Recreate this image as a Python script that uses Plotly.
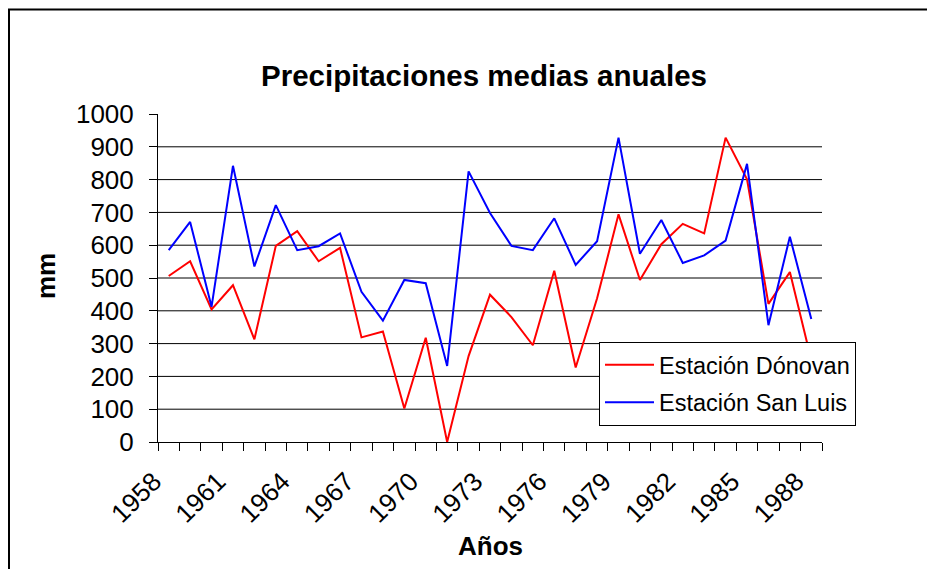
import plotly.graph_objects as go

years = list(range(1958, 1989))
donovan = [506, 551, 404, 478, 313, 598, 643, 551, 592, 319,
           337, 102, 318, 0, 262, 449, 381, 295, 522, 227,
           438, 694, 494, 603, 665, 636, 928, 801, 421, 518, 250]
sanluis = [585, 671, 412, 842, 535, 722, 585, 597, 636, 458,
           370, 494, 484, 232, 825, 698, 598, 585, 682, 540,
           612, 928, 574, 677, 546, 569, 614, 848, 356, 626, 375]
series_names = ["Estación Dónovan", "Estación San Luis"]
x_tick_years = list(range(1958, 1989, 3))
y_ticks = list(range(0, 1001, 100))

FONT = "Liberation Sans, Arial, sans-serif"

fig = go.Figure()
fig.add_trace(go.Scatter(x=years, y=donovan, mode="lines", name=series_names[0],
                         line=dict(color="#FF0000", width=2), legendgroup="a"))
fig.add_trace(go.Scatter(x=years, y=sanluis, mode="lines", name=series_names[1],
                         line=dict(color="#0000FF", width=2), legendgroup="b"))

# page body has an 8px margin; work in screen pixels and convert
OFF = 8
L, R, T, B = 158, 822, 114, 442          # plot area in screen pixels
W, H = 935 - OFF, 569 - OFF
pw, ph = R - L, B - T

def px_x(p):
    return (p - L) / pw

def px_y(p):
    return (B - p) / ph

shapes = []
for v in y_ticks[1:-1]:
    shapes.append(dict(type="line", xref="paper", yref="y", x0=0, x1=1, y0=v, y1=v,
                       line=dict(color="black", width=1), layer="below"))
# outer frame
shapes.append(dict(type="rect", xref="paper", yref="paper",
                   x0=px_x(9), x1=px_x(950), y0=px_y(590), y1=px_y(9.5),
                   line=dict(color="black", width=2), layer="below"))

fig.update_layout(
    width=W, height=H,
    margin=dict(l=L - OFF, r=W - (R - OFF), t=T - OFF, b=H - (B - OFF), pad=0),
    paper_bgcolor="white", plot_bgcolor="white",
    font=dict(family=FONT, color="black"),
    showlegend=True,
    legend=dict(x=px_x(599), y=px_y(342), xanchor="left", yanchor="top",
                bgcolor="white", bordercolor="black", borderwidth=1,
                font=dict(size=23.5, family=FONT), tracegroupgap=4,
                itemwidth=49),
    shapes=shapes,
    annotations=[
        dict(text="Precipitaciones medias anuales", xref="paper", yref="paper",
             x=px_x(484), y=px_y(76), xanchor="center", yanchor="middle",
             showarrow=False, font=dict(size=29.5, family=FONT, weight="bold")),
        dict(text="mm", xref="paper", yref="paper", x=px_x(46), y=px_y(276),
             xanchor="center", yanchor="middle", textangle=-90,
             showarrow=False, font=dict(size=26, family=FONT, weight="bold")),
        dict(text="Años", xref="paper", yref="paper", x=px_x(490), y=px_y(546),
             xanchor="center", yanchor="middle",
             showarrow=False, font=dict(size=26, family=FONT, weight="bold")),
    ],
)

fig.update_xaxes(
    range=[1957.5, 1988.5], tickmode="array", tickvals=x_tick_years,
    ticktext=[str(y) for y in x_tick_years], tickangle=-45,
    ticks="", showgrid=False, zeroline=False,
    showline=True, linecolor="black", linewidth=1,
    tickfont=dict(size=26, family=FONT),
    ticklabelshift=-15, ticklabelstandoff=13,
    minor=dict(tick0=1957.5, dtick=1, ticks="outside", ticklen=8,
               tickcolor="black", tickwidth=1, showgrid=False),
)
fig.update_yaxes(
    range=[0, 1000], tickmode="array", tickvals=y_ticks,
    ticks="outside", ticklen=8, tickcolor="black", tickwidth=1,
    showgrid=False, zeroline=False,
    showline=True, linecolor="black", linewidth=1,
    tickfont=dict(size=26, family=FONT), ticklabelstandoff=10,
)

fig.write_html("out.html")
